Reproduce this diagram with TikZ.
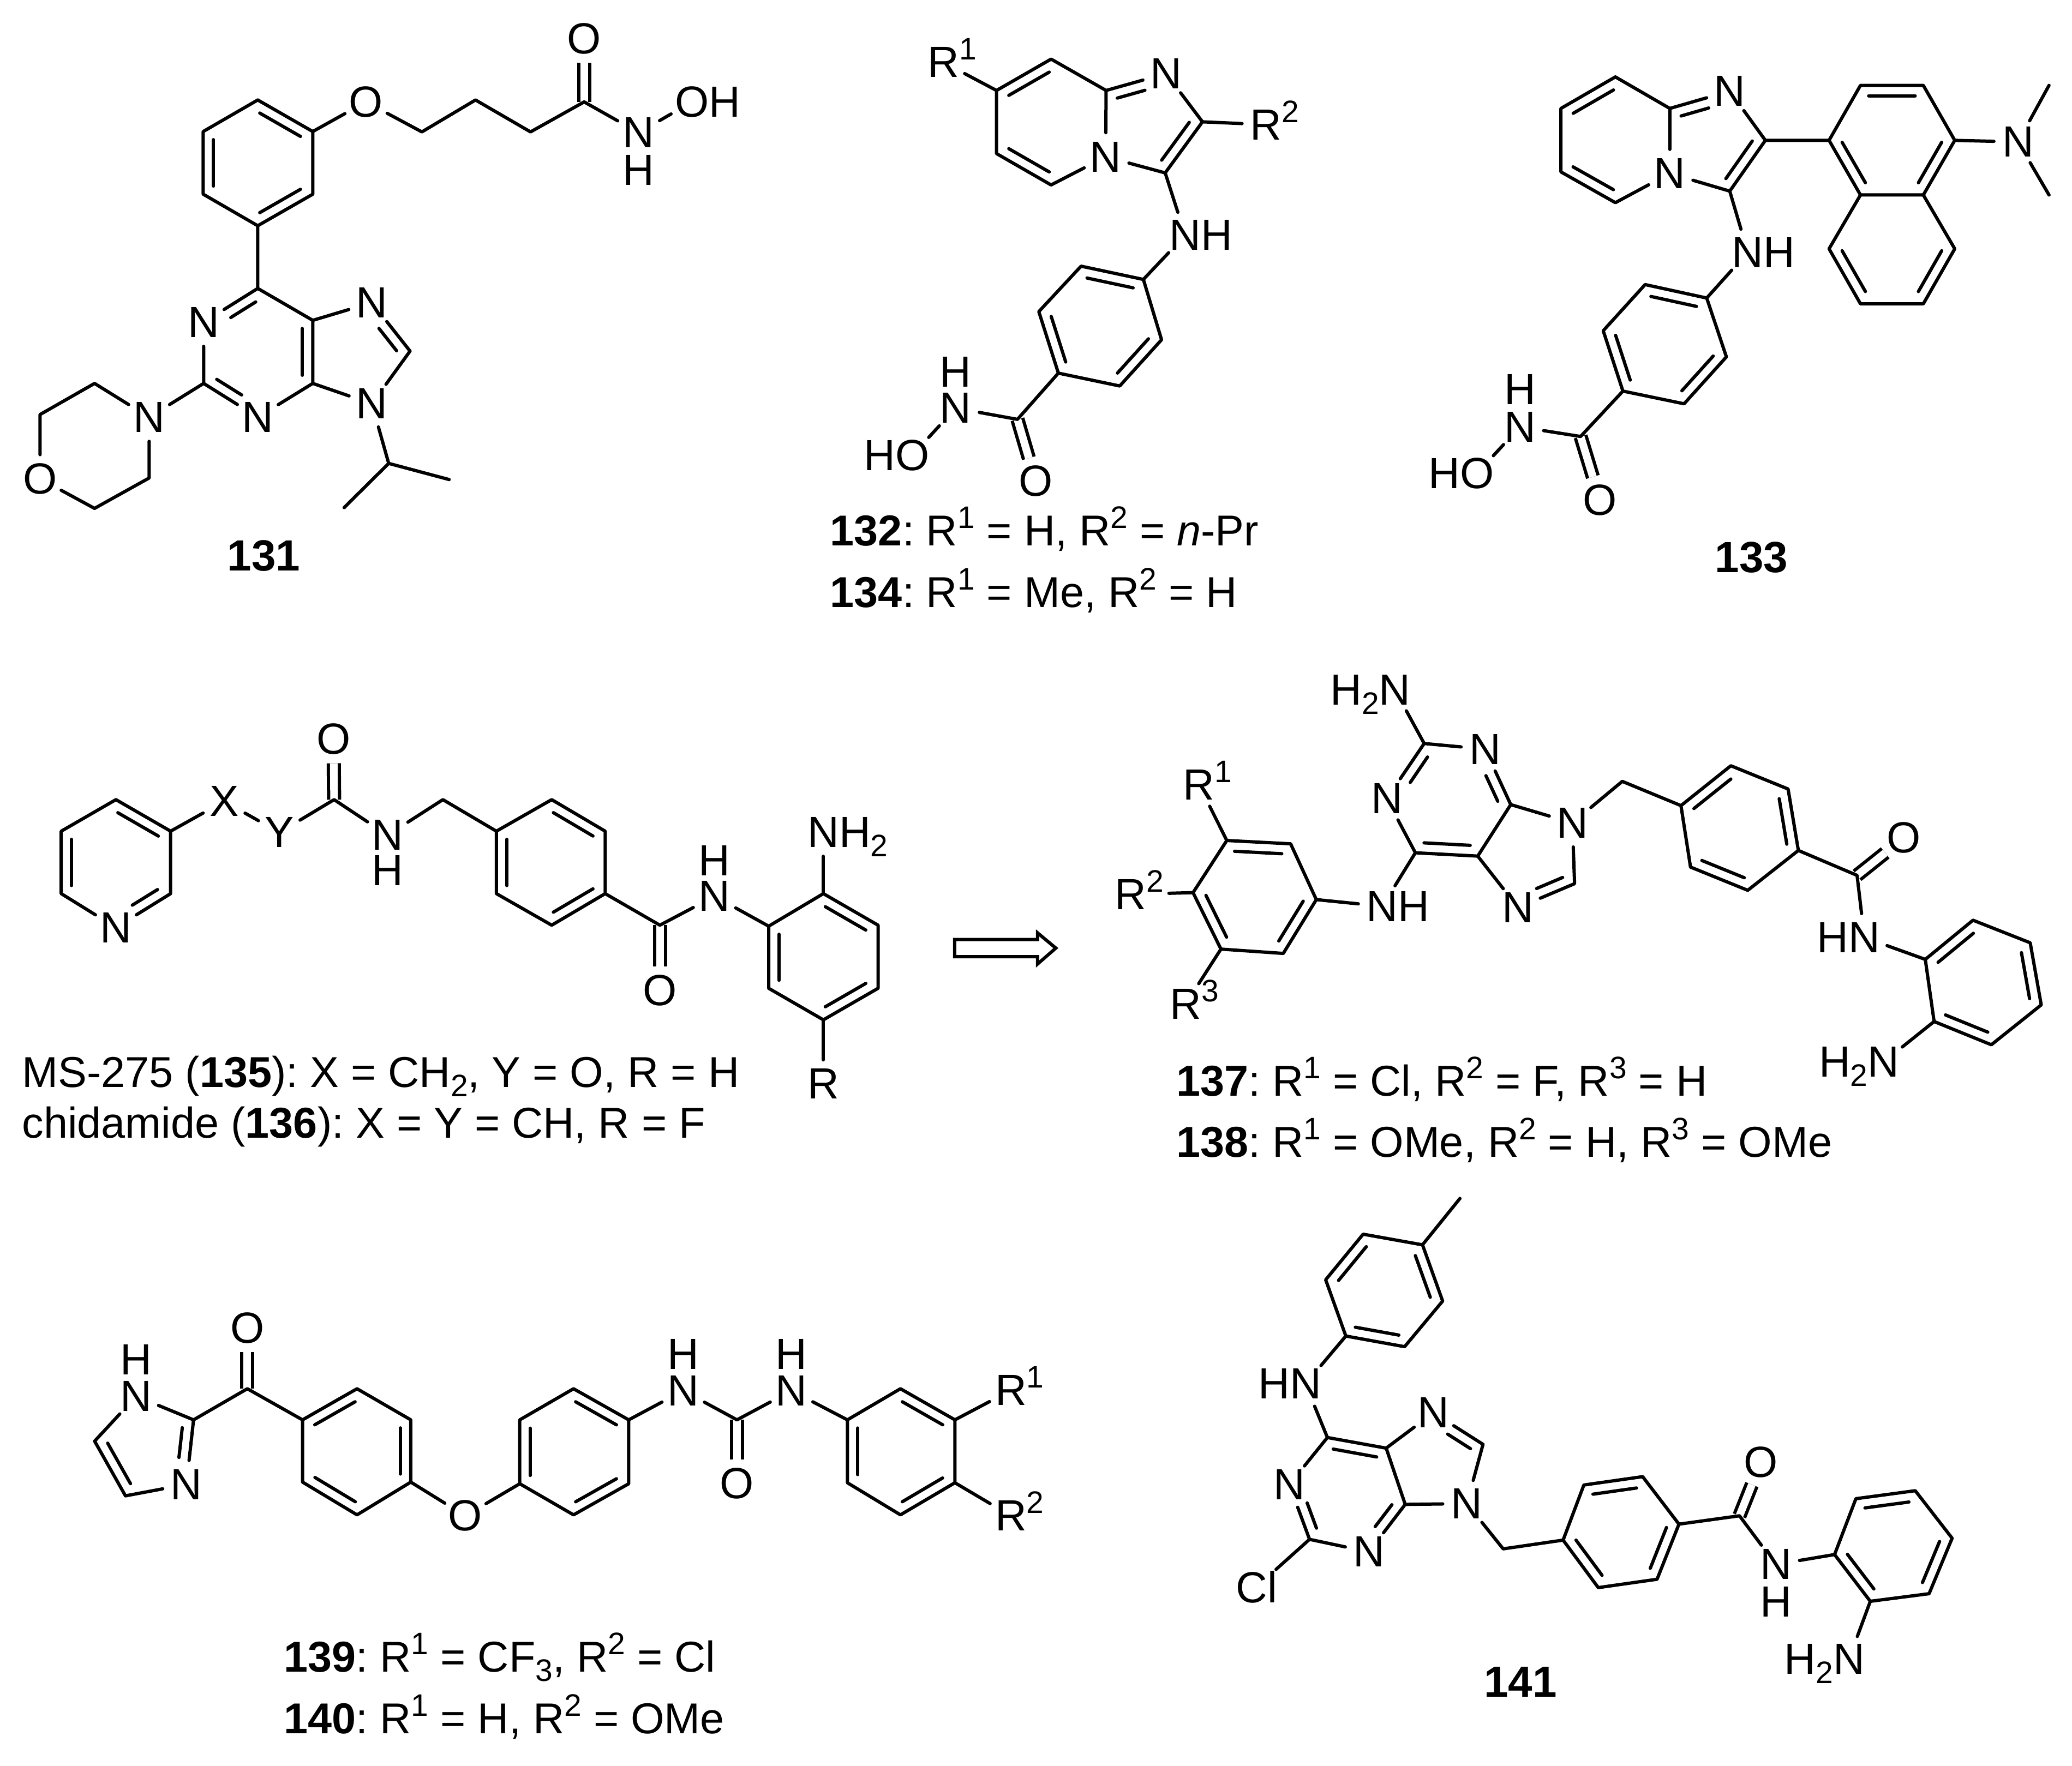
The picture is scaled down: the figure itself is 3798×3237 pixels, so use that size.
\documentclass[tikz,border=0pt]{standalone}
\usepackage{fontspec}
\setmainfont{Liberation Sans}
\usetikzlibrary{calc}
\frenchspacing
\newcommand\sps[1]{\smash{\raisebox{32pt}{\fontsize{57}{57}\selectfont #1}}}
\newcommand\sbs[1]{\smash{\raisebox{-17pt}{\fontsize{57}{57}\selectfont #1}}}
\newcommand\ibx[4]{\draw[bond] ($(#3)!#1!(#4)!19pt!90:(#4)$) -- ($(#4)!#2!(#3)!19pt!-90:(#3)$);}
\newcommand\ib[2]{\ibx{.13}{.13}{#1}{#2}}
\newcommand\iba[2]{\ibx{.40}{.14}{#1}{#2}}
\newcommand\ibb[2]{\ibx{.14}{.40}{#1}{#2}}
\tikzset{
  bond/.style={line width=6pt,line cap=round,line join=round,black},
  cdb/.style={line width=6pt,line cap=butt,double=white,double distance=14pt,black},
  atom/.style={circle,minimum size=88pt,inner sep=0pt,font=\fontsize{80}{96}\selectfont},
  txt/.style={inner sep=0pt,font=\fontsize{80}{96}\selectfont},
  cpt/.style={inner sep=0pt,anchor=base west,font=\fontsize{79.2}{96}\selectfont},
}
\begin{document}
\begin{tikzpicture}
\useasboundingbox (0pt,0pt) rectangle (3798pt,-3237pt);
%%% 131
\begin{scope}[x=0.8333pt,y=-0.7051pt,name prefix=a-]
\foreach \n/\p in {a1/{567,260},a2/{688,342},a3/{688,505},a4/{567,587},a5/{447,505},a6/{447,342},c1/{928,343},c2/{1046,260},c3/{1167,343},c4/{1285,265},p1/{567,750},p2/{448,997},p3/{688,997},p4/{688,833},c8/{902,913},ip/{855,1205},me1/{757,1320},me2/{988,1247},m1/{208,997},m2/{88,1078},m3/{208,1322},m4/{328,1243}} {\coordinate (\n) at (\p);}
\node[atom] (o1) at (805,265) {O};
\node[atom] (o2) at (1285,100) {O};
\node[atom] (n1) at (1405,345) {N};
\node[atom] (o3) at (1522,265) {O\rlap{H}};
\node[txt] (h1) at (1405,442) {H};
\node[atom] (n3) at (448,838) {N};
\node[atom] (n4) at (567,1085) {N};
\node[atom] (n7) at (818,787) {N};
\node[atom] (n9) at (818,1050) {N};
\node[atom] (nm) at (328,1085) {N};
\node[atom] (om) at (88,1245) {O};
\draw[cdb] (c4) -- (o2);
\draw[bond] (a1) -- (a2) -- (a3) -- (a4) -- (a5) -- (a6) -- (a1);
\ib{a2}{a1}\ib{a4}{a3}\ib{a6}{a5}
\draw[bond] (a2) -- (o1) -- (c1) -- (c2) -- (c3) -- (c4) -- (n1) -- (o3);
\draw[bond] (a4) -- (p1) -- (n3) -- (p2) -- (n4) -- (p3) -- (p4) -- (p1);
\ibb{p1}{n3}\ibb{p2}{n4}\ib{p3}{p4}
\draw[bond] (p4) -- (n7) -- (c8) -- (n9) -- (p3);
\ibb{c8}{n7}
\draw[bond] (n9) -- (ip) -- (me1);
\draw[bond] (ip) -- (me2);
\draw[bond] (p2) -- (nm) -- (m1) -- (m2) -- (om) -- (m3) -- (m4) -- (nm);
\node[txt] (lab) at (580,1445) {\textbf{131}};
\end{scope}
%%% 132/134
\begin{scope}[shift={(1300pt,0pt)},x=0.8333pt,y=-0.7372pt,name prefix=b-]
\foreach \n/\p in {b1/{632,225},b2/{752,147},b3/{873,225},b4/{1085,303},b5/{1003,430},b6/{752,460},b7/{632,382},q1/{955,695},q2/{818,662},q3/{725,775},q4/{768,928},q5/{903,960},q6/{995,845},co/{678,1043}} {\coordinate (\n) at (\p);}
\node[atom] (r1) at (515,155) {R\rlap{\sps{1}}};
\node[atom] (r2) at (1225,310) {R\rlap{\sps{2}}};
\node[atom] (n) at (1005,183) {N};
\node[atom] (nb) at (872,390) {N};
\node[atom] (nh) at (1047,585) {N\rlap{H}};
\node[atom] (nq) at (542,1015) {N};
\node[txt] (hq) at (542,925) {H};
\node[atom] (oh) at (447,1132) {\llap{H}O};
\node[atom] (o) at (718,1197) {O};
\draw[cdb] (co) -- (o);
\draw[bond] (r1) -- (b1) -- (b2) -- (b3) -- (n) -- (b4) -- (b5) -- (nb) -- (b3);
\draw[bond] (nb) -- (b6) -- (b7) -- (b1);
\ib{b2}{b1}\ib{b7}{b6}\iba{n}{b3}\ib{b5}{b4}
\draw[bond] (b4) -- (r2);
\draw[bond] (b5) -- (nh) -- (q1) -- (q2) -- (q3) -- (q4) -- (q5) -- (q6) -- (q1);
\ib{q1}{q2}\ib{q3}{q4}\ib{q5}{q6}
\draw[bond] (q4) -- (co) -- (nq) -- (oh);
\node[cpt] (l1) at (266,1356.5) {\textbf{132}: R\sps{1} = H, R\sps{2} = \textit{n}-Pr};
\node[cpt] (l2) at (266,1510) {\textbf{134}: R\sps{1} = Me, R\sps{2} = H};
\end{scope}
%%% 133
\begin{scope}[shift={(2600pt,0pt)},x=0.768pt,y=-0.7051pt,name prefix=c-]
\foreach \n/\p in {c1/{470,200},c2/{340,282},c3/{340,447},c4/{470,527},c5/{600,282},c6/{828,365},c7/{743,497},n1/{980,365},n2/{1055,222},n3/{1205,222},n4/{1280,365},n5/{1205,507},n6/{1055,507},n7/{1280,647},n8/{1205,790},n9/{1055,790},n10/{980,647},me1/{1505,222},me2/{1505,507},r1/{688,775},r2/{541,740},r3/{441,860},r4/{488,1017},r5/{634,1050},r6/{735,928},co/{387,1135}} {\coordinate (\n) at (\p);}
\node[atom] (nb) at (600,451) {N};
\node[atom] (n) at (743,237) {N};
\node[atom] (nh) at (786,656) {N\rlap{H}};
\node[atom] (nd) at (1431,369) {N};
\node[atom] (o) at (433,1300) {O};
\node[atom] (nr) at (242,1110) {N};
\node[txt] (hr) at (242,1012) {H};
\node[atom] (oh) at (140,1231) {\llap{H}O};
\draw[cdb] (co) -- (o);
\draw[bond] (c1) -- (c2) -- (c3) -- (c4) -- (nb) -- (c5) -- (c1);
\draw[bond] (c5) -- (n) -- (c6) -- (c7) -- (nb);
\ib{c1}{c2}\ib{c3}{c4}\iba{n}{c5}\ib{c7}{c6}
\draw[bond] (c6) -- (n1) -- (n2) -- (n3) -- (n4) -- (n5) -- (n6) -- (n1);
\draw[bond] (n5) -- (n7) -- (n8) -- (n9) -- (n10) -- (n6);
\ib{n3}{n2}\ib{n1}{n6}\ib{n5}{n4}\ib{n10}{n9}\ib{n8}{n7}
\draw[bond] (n4) -- (nd) -- (me1);
\draw[bond] (nd) -- (me2);
\draw[bond] (c7) -- (nh) -- (r1) -- (r2) -- (r3) -- (r4) -- (r5) -- (r6) -- (r1);
\ib{r1}{r2}\ib{r3}{r4}\ib{r5}{r6}
\draw[bond] (r4) -- (co) -- (nr) -- (oh);
\node[txt] (lab) at (795,1450) {\textbf{133}};
\end{scope}
%%% 135/136
\begin{scope}[shift={(0pt,-1200pt)},x=1.0897pt,y=-0.609pt,name prefix=d-]
\foreach \n/\p in {d1/{195,437},d2/{287,532},d3/{287,720},d5/{103,720},d6/{103,532},c/{562,437},ch/{745,437},e1/{835,532},e2/{928,437},e3/{1018,532},e4/{1018,720},e5/{928,815},e6/{835,720},cc/{1110,815},f1/{1293,818},f2/{1385,720},f3/{1477,815},f4/{1477,1005},f5/{1385,1100},f6/{1293,1005}} {\coordinate (\n) at (\p);}
\node[atom] (np) at (195,822) {N};
\node[atom] (x) at (377,442) {X};
\node[atom] (y) at (470,536) {Y};
\node[atom] (o) at (561,255) {O};
\node[atom] (nh) at (652,544) {N};
\node[txt] (hh) at (652,650) {H};
\node[atom] (o2) at (1110,1012) {O};
\node[atom] (nn) at (1202,728) {N};
\node[txt] (hn) at (1202,620) {H};
\node[atom] (nt) at (1385,535) {N\rlap{H\sbs{2}}};
\node[atom] (r) at (1385,1293) {R};
\draw[cdb] (c) -- (o);
\draw[cdb] (cc) -- (o2);
\draw[bond] (d1) -- (d2) -- (d3) -- (np) -- (d5) -- (d6) -- (d1);
\ib{d6}{d5}\iba{np}{d3}\ib{d2}{d1}
\draw[bond] (d2) -- (x) -- (y) -- (c) -- (nh) -- (ch) -- (e1) -- (e2) -- (e3) -- (e4) -- (e5) -- (e6) -- (e1);
\ib{e1}{e6}\ib{e5}{e4}\ib{e3}{e2}
\draw[bond] (e4) -- (cc) -- (nn) -- (f1) -- (f2) -- (f3) -- (f4) -- (f5) -- (f6) -- (f1);
\ib{f1}{f6}\ib{f5}{f4}\ib{f3}{f2}
\draw[bond] (f2) -- (nt);
\draw[bond] (f5) -- (r);
\node[cpt] (l1) at (37,1303) {MS-275 (\textbf{135}): X = CH\sbs{2}, Y = O, R = H};
\node[cpt] (l2) at (37,1455) {chidamide (\textbf{136}): X = Y = CH, R = F};
\end{scope}
%%% 137/138
\begin{scope}[shift={(1700pt,-1200pt)},x=1.3449pt,y=-0.609pt,name prefix=e-]
\foreach \n/\p in {g1/{408,560},g2/{495,570},g3/{530,738},g4/{485,900},g5/{400,887},g6/{362,717},h1/{665,597},h2/{677,268},h3/{795,452},h4/{750,607},c8/{882,690},ch/{947,382},j1/{1027,455},j2/{1095,335},j3/{1173,405},j4/{1187,590},j5/{1118,710},j6/{1040,640},k/{1267,665},l1/{1360,918},l2/{1425,800},l3/{1503,868},l4/{1518,1055},l5/{1450,1175},l6/{1372,1105}} {\coordinate (\n) at (\p);}
\node[atom] (r1) at (370,392) {R\rlap{\sps{1}}};
\node[atom] (r2) at (277,722) {R\rlap{\sps{2}}};
\node[atom] (r3) at (352,1052) {R\rlap{\sps{3}}};
\node[atom] (nh) at (620,758) {N\rlap{H}};
\node[atom] (na) at (626,434) {N};
\node[atom] (nb) at (760,285) {N};
\node[atom] (nt) at (637,106) {\llap{H\sbs{2}}N};
\node[atom] (n9) at (879,507) {N};
\node[atom] (n7) at (805,762) {N};
\node[atom] (o) at (1331,552) {O};
\node[atom] (hn) at (1277,852) {\llap{H}N};
\node[atom] (n2) at (1303,1227) {\llap{H\sbs{2}}N};
\draw[cdb] (k) -- (o);
\draw[bond] (g1) -- (g2) -- (g3) -- (g4) -- (g5) -- (g6) -- (g1);
\ib{g6}{g5}\ib{g4}{g3}\ib{g2}{g1}
\draw[bond] (g1) -- (r1);
\draw[bond,shorten >=26pt] (g6) -- (r2);
\draw[bond] (g5) -- (r3);
\draw[bond] (g3) -- (nh) -- (h1) -- (na) -- (h2) -- (nb) -- (h3) -- (h4) -- (h1);
\ibb{h2}{na}\ib{h1}{h4}\ibb{h3}{nb}
\draw[bond] (h2) -- (nt);
\draw[bond] (h3) -- (n9) -- (c8) -- (n7) -- (h4);
\iba{n7}{c8}
\draw[bond] (n9) -- (ch) -- (j1) -- (j2) -- (j3) -- (j4) -- (j5) -- (j6) -- (j1);
\ib{j2}{j1}\ib{j6}{j5}\ib{j4}{j3}
\draw[bond] (j4) -- (k) -- (hn) -- (l1) -- (l2) -- (l3) -- (l4) -- (l5) -- (l6) -- (l1);
\ib{l2}{l1}\ib{l6}{l5}\ib{l4}{l3}
\draw[bond] (l6) -- (n2);
\draw[bond,line join=miter] (37,858) -- (150,858) -- (150,838) -- (175,884) -- (150,932) -- (150,910) -- (37,910) -- cycle;
\node[cpt] (l1t) at (339,1329) {\textbf{137}: R\sps{1} = Cl, R\sps{2} = F, R\sps{3} = H};
\node[cpt] (l2t) at (339,1513) {\textbf{138}: R\sps{1} = OMe, R\sps{2} = H, R\sps{3} = OMe};
\end{scope}
%%% 139/140
\begin{scope}[shift={(0pt,-2300pt)},x=1.3141pt,y=-0.6006pt,name prefix=f-]
\foreach \n/\p in {m1/{270,505},m2/{175,737},m3/{132,570},co/{345,410},s1/{422,505},s2/{498,410},s3/{573,505},s4/{573,695},s5/{498,795},s6/{422,695},t1/{877,505},t2/{800,410},t3/{725,505},t4/{725,700},t5/{800,795},t6/{877,700},u/{1028,505},v1/{1182,505},v2/{1256,410},v3/{1332,505},v4/{1332,697},v5/{1256,795},v6/{1182,697}} {\coordinate (\n) at (\p);}
\node[atom] (nh) at (190,433) {N};
\node[txt] (hh) at (190,322) {H};
\node[atom] (nm) at (260,702) {N};
\node[atom] (o1) at (345,225) {O};
\node[atom] (o2) at (649,798) {O};
\node[atom] (n1) at (953,416) {N};
\node[txt] (h1) at (953,305) {H};
\node[atom] (o3) at (1028,700) {O};
\node[atom] (n2) at (1104,416) {N};
\node[txt] (h2) at (1104,305) {H};
\node[atom] (r1) at (1410,415) {R\rlap{\sps{1}}};
\node[atom] (r2) at (1410,798) {R\rlap{\sps{2}}};
\draw[cdb] (co) -- (o1);
\draw[cdb] (u) -- (o3);
\draw[bond] (nh) -- (m1) -- (nm) -- (m2) -- (m3) -- (nh);
\iba{nm}{m1}\ib{m3}{m2}
\draw[bond] (m1) -- (co) -- (s1) -- (s2) -- (s3) -- (s4) -- (s5) -- (s6) -- (s1);
\ib{s2}{s1}\ib{s6}{s5}\ib{s4}{s3}
\draw[bond] (s4) -- (o2) -- (t4) -- (t5) -- (t6) -- (t1) -- (t2) -- (t3) -- (t4);
\ib{t3}{t4}\ib{t5}{t6}\ib{t1}{t2}
\draw[bond] (t1) -- (n1) -- (u) -- (n2) -- (v1) -- (v2) -- (v3) -- (v4) -- (v5) -- (v6) -- (v1);
\ib{v1}{v6}\ib{v5}{v4}\ib{v3}{v2}
\draw[bond] (v3) -- (r1);
\draw[bond] (v4) -- (r2);
\node[cpt] (l1) at (396,1274) {\textbf{139}: R\sps{1} = CF\sbs{3}, R\sps{2} = Cl};
\node[cpt] (l2) at (396,1462) {\textbf{140}: R\sps{1} = H, R\sps{2} = OMe};
\end{scope}
%%% 141
\begin{scope}[shift={(2150pt,-2150pt)},x=1.0564pt,y=-0.6968pt,name prefix=g-]
\foreach \n/\p in {w1/{433,190},w2/{330,162},w3/{265,282},w4/{300,430},w5/{402,458},w6/{468,338},me/{498,68},x1/{268,697},x2/{237,965},x3/{403,873},x4/{370,725},x5/{538,715},ch/{573,990},y1/{677,967},y2/{713,822},y3/{815,800},y4/{878,925},y5/{840,1070},y6/{738,1092},z/{983,903},a1/{1148,1005},a2/{1185,858},a3/{1288,837},a4/{1352,962},a5/{1312,1108},a6/{1210,1128}} {\coordinate (\n) at (\p);}
\node[atom] (hn) at (230,556) {\llap{H}N};
\node[atom] (nx) at (202,821) {N};
\node[atom] (ny) at (340,998) {N};
\node[atom] (cl) at (145,1090) {Cl};
\node[atom] (n7) at (452,632) {N};
\node[atom] (n9) at (510,871) {N};
\node[atom] (o) at (1020,762) {O};
\node[atom] (nn) at (1046,1031) {N};
\node[txt] (hh) at (1046,1130) {H};
\node[atom] (nt) at (1173,1280) {\llap{H\sbs{2}}N};
\draw[cdb] (z) -- (o);
\draw[bond] (me) -- (w1) -- (w2) -- (w3) -- (w4) -- (w5) -- (w6) -- (w1);
\ib{w2}{w3}\ib{w4}{w5}\ib{w6}{w1}
\draw[bond] (w4) -- (hn) -- (x1) -- (nx) -- (x2) -- (ny) -- (x3) -- (x4) -- (x1);
\iba{nx}{x2}\iba{ny}{x3}\ib{x4}{x1}
\draw[bond] (x2) -- (cl);
\draw[bond] (x4) -- (n7) -- (x5) -- (n9) -- (x3);
\ibb{x5}{n7}
\draw[bond] (n9) -- (ch) -- (y1) -- (y2) -- (y3) -- (y4) -- (y5) -- (y6) -- (y1);
\ib{y3}{y2}\ib{y1}{y6}\ib{y5}{y4}
\draw[bond] (y4) -- (z) -- (nn) -- (a1) -- (a2) -- (a3) -- (a4) -- (a5) -- (a6) -- (a1);
\ib{a3}{a2}\ib{a1}{a6}\ib{a5}{a4}
\draw[bond] (a6) -- (nt);
\node[txt] (lab) at (603,1340) {\textbf{141}};
\end{scope}
\end{tikzpicture}
\end{document}
